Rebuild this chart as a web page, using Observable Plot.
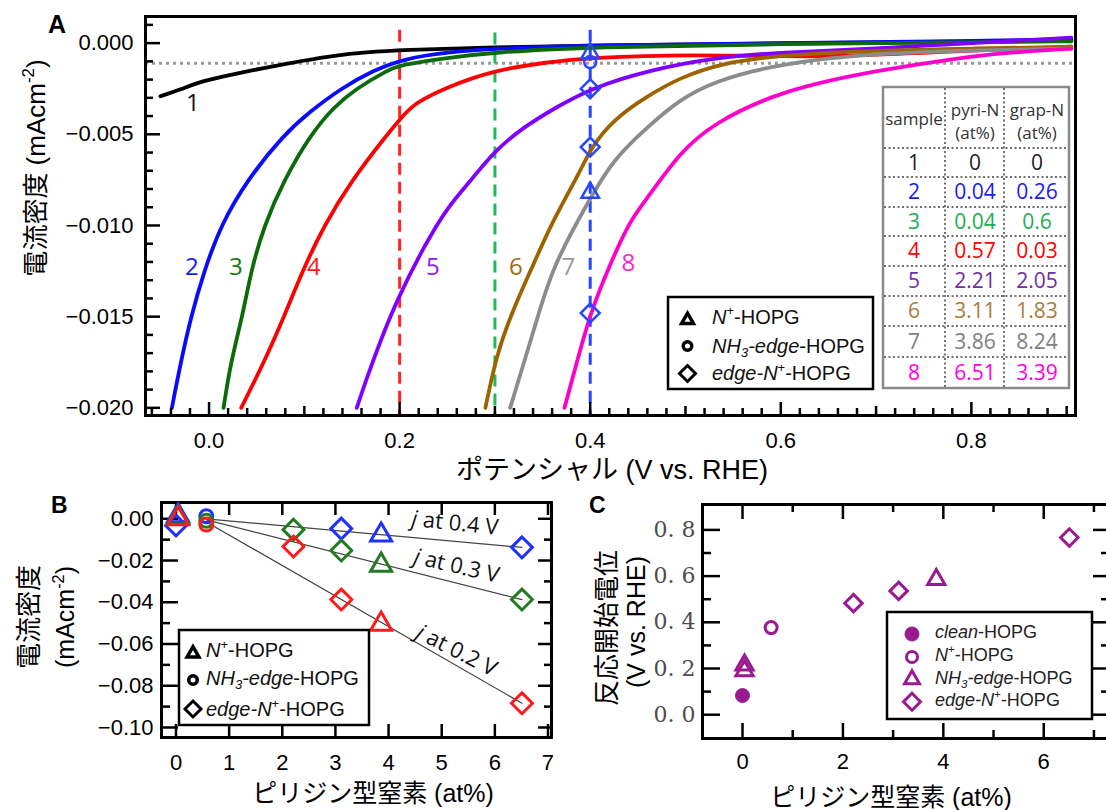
<!DOCTYPE html>
<html lang="ja">
<head>
<meta charset="utf-8">
<script src="https://cdn.jsdelivr.net/npm/d3@7"></script>
<script src="https://cdn.jsdelivr.net/npm/@observablehq/plot@0.6"></script>
<style>
  html, body { margin:0; padding:0; background:#fff; overflow:hidden; }
  #fig { position:relative; width:1106px; height:810px; overflow:hidden; background:#fff; }
</style>
</head>
<body>
<div id="fig"></div>
<script>
// ================= DATA =================
// Panel A: sample ids, colours, table values
const sampleLabels = ["1","2","3","4","5","6","7","8"];
const curveColors  = ["#000000","#0a0aff","#0b6b0b","#ff0000","#8000ff","#9c6400","#8c8c8c","#ff00cc"];
const labelColors  = ["#111111","#1a1aff","#137a13","#ff1a1a","#8a1aff","#a06a10","#9a9a9a","#ff22cc"];
const tableColors  = ["#222222","#1a1aff","#1aae54","#ff0000","#7030a0","#a97d3c","#808080","#ff00dd"];
const pyriN = ["0","0.04","0.04","0.57","2.21","3.11","3.86","6.51"];
const grapN = ["0","0.26","0.6","0.03","2.05","1.83","8.24","3.39"];

// LSV curves: [potential V vs RHE, current density mA cm^-2]
const sample1 = [[-0.051,-0.00291],[-0.03,-0.00255],[-0.008,-0.00208],[0.03,-0.00165],[0.062,-0.00132],[0.1,-0.00095],[0.131,-0.00068],[0.165,-0.0005],[0.201,-0.00038],[0.3,-0.00022],[0.4,-0.00012],[0.6,-0.00002],[0.8,0.00008],[0.905,0.00015]];
const sample2 = [[-0.039,-0.0200],[-0.0297,-0.0175],[-0.019,-0.0150],[-0.0052,-0.0125],[0.0122,-0.0100],[0.040,-0.0075],[0.0787,-0.0050],[0.106,-0.00375],[0.138,-0.0025],[0.172,-0.0015],[0.205,-0.00085],[0.25,-0.0005],[0.3,-0.0003],[0.4,-0.00012],[0.6,0.0],[0.8,0.00012],[0.905,0.0002]];
const sample3 = [[0.0152,-0.0200],[0.0227,-0.0175],[0.035,-0.0150],[0.044,-0.0125],[0.0577,-0.0100],[0.0787,-0.0075],[0.1067,-0.0050],[0.131,-0.0035],[0.154,-0.0025],[0.187,-0.0015],[0.2,-0.0012],[0.25,-0.0008],[0.3,-0.0005],[0.4,-0.0002],[0.6,-0.00005],[0.8,0.00005],[0.905,0.0001]];
const sample4 = [[0.0337,-0.0200],[0.0577,-0.0175],[0.0787,-0.0150],[0.098,-0.0125],[0.1206,-0.0100],[0.150,-0.0075],[0.187,-0.0050],[0.2,-0.0042],[0.215,-0.0033],[0.25,-0.0024],[0.298,-0.0015],[0.355,-0.00104],[0.4,-0.0008],[0.5,-0.0006],[0.65,-0.0008],[0.75,-0.0005],[0.905,-0.0002]];
const sample5 = [[0.155,-0.0200],[0.166,-0.0183],[0.18,-0.0163],[0.198,-0.0140],[0.225,-0.0112],[0.25,-0.0090],[0.277,-0.0074],[0.298,-0.0060],[0.33,-0.0046],[0.365,-0.0035],[0.4,-0.0025],[0.46,-0.0015],[0.53,-0.0008],[0.6,-0.0005],[0.7,-0.0003],[0.8,0.0],[0.905,0.0003]];
const sample6 = [[0.29,-0.0200],[0.302,-0.0170],[0.32,-0.0145],[0.339,-0.0123],[0.361,-0.0097],[0.39,-0.0070],[0.4,-0.0058],[0.424,-0.0042],[0.46,-0.0029],[0.494,-0.0019],[0.537,-0.0011],[0.6,-0.00066],[0.7,-0.0004],[0.8,-0.0003],[0.905,-0.0002]];
const sample7 = [[0.316,-0.0200],[0.344,-0.0152],[0.360,-0.0123],[0.4,-0.0085],[0.424,-0.0064],[0.46,-0.0046],[0.494,-0.0031],[0.529,-0.0021],[0.6,-0.0011],[0.7,-0.00055],[0.8,-0.0004],[0.905,-0.0003]];
const sample8 = [[0.373,-0.0200],[0.385,-0.0177],[0.4,-0.0148],[0.421,-0.0121],[0.442,-0.0097],[0.46,-0.0085],[0.494,-0.0060],[0.529,-0.0044],[0.6,-0.0026],[0.7,-0.0015],[0.79,-0.0008],[0.83,-0.00055],[0.905,-0.0003]];

// curve number labels
const labelV = [-0.017,-0.018,0.028,0.11,0.235,0.322,0.377,0.44];
const labelJ = [-0.0033,-0.0123,-0.0123,-0.0123,-0.0123,-0.0123,-0.0123,-0.0121];

// guide lines
const guideV = [0.2, 0.3, 0.4];
const guideTopJ = [0.0007, 0.00055, 0.0007];
const guideColors = ["#ff2626","#1fbb55","#2646ff"];
const thresholdJ = [-0.0011];

// markers on the 0.4 V line
const markerV = 0.4;
const markerTriJ = [-0.00055, -0.0082];
const markerCircJ = [-0.00104];
const markerDiaJ = [-0.0025, -0.0057, -0.0148];

// Panel A axes
const aXTicks = [0, 0.2, 0.4, 0.6, 0.8];
const aXTickLabels = ["0.0","0.2","0.4","0.6","0.8"];
const aYTicks = [0, -0.005, -0.01, -0.015, -0.02];
const aYTickLabels = ["0.000","\u22120.005","\u22120.010","\u22120.015","\u22120.020"];

// Panel B: current density vs pyridinic N
const bDiaX04 = [0, 3.11, 6.51];    const bDiaJ04 = [-0.0032, -0.0047, -0.0137];
const bDiaX03 = [2.21, 3.11, 6.51]; const bDiaJ03 = [-0.0052, -0.0152, -0.0387];
const bDiaX02 = [2.21, 3.11, 6.51]; const bDiaJ02 = [-0.0133, -0.0387, -0.0884];
const bTriX = [0.04, 3.86];
const bTriJ04 = [0.0015, -0.0078];
const bTriJ03 = [0.0005, -0.0222];
const bTriJ02 = [0.0, -0.0505];
const bCircX = [0.57];
const bCircJ04 = [0.0012];
const bCircJ03 = [-0.001];
const bCircJ02 = [-0.0028];
const fitX = [0.57, 6.51];
const fitJ04 = [0.0, -0.0137];
const fitJ03 = [-0.0005, -0.0387];
const fitJ02 = [-0.0015, -0.0884];
const bLabels = ["j at 0.4 V", "j at 0.3 V", "j at 0.2 V"];
const bLabelX = [5.25, 5.28, 5.28];
const bLabelJ = [-0.0022, -0.0227, -0.0632];
const bLabelAngle = [6, 13, 27];
const bColors = ["#1e32ff", "#237a23", "#ff1a1a"];
const bXTicks = [0,1,2,3,4,5,6,7];
const bYTicks = [0, -0.02, -0.04, -0.06, -0.08, -0.1];
const bYTickLabels = ["0.00","\u22120.02","\u22120.04","\u22120.06","\u22120.08","\u22120.10"];

// Panel C: onset potential vs pyridinic N
const cCleanX = [0];              const cCleanY = [0.083];
const cNplusX = [0.57];           const cNplusY = [0.377];
const cNH3X = [0.04, 0.04, 3.86]; const cNH3Y = [0.215, 0.19, 0.585];
const cEdgeX = [2.21, 3.11, 6.51];const cEdgeY = [0.483, 0.536, 0.767];
const cXTicks = [0, 2, 4, 6];
const cXTickLabels = ["0","2","4","6"];
const cYTicks = [0, 0.2, 0.4, 0.6, 0.8];
const cYTickLabels = ["0. 0","0. 2","0. 4","0. 6","0. 8"];
const purple = "#991b8f";

// ================= RENDER =================
const FONT = "'Liberation Sans', Arial, 'Noto Sans CJK JP', sans-serif";
const OPEN = "'Open Sans', 'Noto Sans', sans-serif";
const NS = "http://www.w3.org/2000/svg";
const fig = document.getElementById("fig");
function place(svg, left, top) {
  svg.style.position = "absolute"; svg.style.left = left + "px"; svg.style.top = top + "px";
  svg.style.maxWidth = "none"; svg.style.background = "transparent";
  fig.appendChild(svg);
}
const lookup = (keys, labels) => { const m = new Map(keys.map((k, i) => [k, labels[i]])); return d => m.get(d); };
const blk = {stroke: "#000", strokeWidth: 2.5};

// ---------- Panel A ----------
const aW = 1106, aH = 480, aML = 145, aMR = 31, aMT = 16, aMB = 65;
const aPW = aW - aML - aMR, aPH = aH - aMT - aMB;
const aXDomain = [-0.0667, 0.9093], aYDomain = [-0.02042, 0.00146];
const aXAll = d3.range(-3, 46).map(i => +(i * 0.02).toFixed(2));
const aXMid = [0.1, 0.3, 0.5, 0.7, 0.9];
const aXMinorOnly = aXAll.filter(v => !aXTicks.some(t => Math.abs(t - v) < 1e-9) && !aXMid.some(m => Math.abs(m - v) < 1e-9));
const aYMinor = d3.range(-20, 2).map(i => +(i * 0.001).toFixed(3)).filter(v => !aYTicks.some(t => Math.abs(t - v) < 1e-9));

const aMarks = [];
aMarks.push(Plot.ruleY(thresholdJ, {y: d => d, stroke: "#9a9a9a", strokeWidth: 3, strokeDasharray: "3,4"}));
guideV.forEach((v, i) => aMarks.push(Plot.ruleX([v], {x: d => d, y1: guideTopJ[i], y2: aYDomain[0], stroke: guideColors[i], strokeWidth: 3, strokeDasharray: "12,7"})));
[sample1, sample2, sample3, sample4, sample5, sample6, sample7, sample8].forEach((c, i) =>
  aMarks.push(Plot.line(c, {x: d => d[0], y: d => d[1], stroke: curveColors[i], strokeWidth: 3.8, curve: "basis"})));
aMarks.push(Plot.dot(markerTriJ, {x: markerV, y: d => d, symbol: d3.symbolTriangle, r: 6.5, stroke: "#2646ff", strokeWidth: 2.5, fill: "none"}));
aMarks.push(Plot.dot(markerCircJ, {x: markerV, y: d => d, symbol: d3.symbolCircle, r: 6, stroke: "#2646ff", strokeWidth: 2.5, fill: "none"}));
aMarks.push(Plot.dot(markerDiaJ, {x: markerV, y: d => d, symbol: d3.symbolDiamond2, r: 8.5, stroke: "#2646ff", strokeWidth: 2.5, fill: "none"}));
sampleLabels.forEach((s, i) => aMarks.push(Plot.text([s], {x: labelV[i], y: labelJ[i], text: d => d, fill: labelColors[i], fontSize: 24, fontFamily: OPEN})));
aMarks.push(Plot.ruleX(aXTicks, {x: d => d, insetTop: aPH - 13, ...blk}));
aMarks.push(Plot.ruleX(aXMid, {x: d => d, insetTop: aPH - 9, ...blk}));
aMarks.push(Plot.ruleX(aXMinorOnly, {x: d => d, insetTop: aPH - 7, ...blk}));
aMarks.push(Plot.ruleY(aYTicks, {y: d => d, insetRight: aPW - 15, ...blk}));
aMarks.push(Plot.ruleY(aYMinor, {y: d => d, insetRight: aPW - 8, ...blk}));
aMarks.push(Plot.frame({stroke: "#000", strokeWidth: 3}));
aMarks.push(Plot.axisX({ticks: aXTicks, tickSize: 0, tickPadding: 17, tickFormat: lookup(aXTicks, aXTickLabels), label: null, fontSize: 22}));
aMarks.push(Plot.axisY({ticks: aYTicks, tickSize: 0, tickPadding: 12, tickFormat: lookup(aYTicks, aYTickLabels), label: null, fontSize: 22}));
const plotA = Plot.plot({
  width: aW, height: aH, marginLeft: aML, marginRight: aMR, marginTop: aMT, marginBottom: aMB,
  x: {domain: aXDomain}, y: {domain: aYDomain},
  style: {fontFamily: FONT, fontSize: "22px", color: "#000", background: "transparent", overflow: "visible"},
  marks: aMarks
});
place(plotA, 0, 0);

// ---------- Panel B ----------
const bW = 580, bH = 330, bML = 161, bMR = 29, bMT = 22, bMB = 73;
const bPW = bW - bML - bMR, bPH = bH - bMT - bMB;
const bYMinor = [-0.01, -0.03, -0.05, -0.07, -0.09];
const pts = (xs, ys) => xs.map((x, i) => ({x, y: ys[i]}));
const bMarks = [];
bMarks.push(Plot.ruleX(bXTicks, {x: d => d, insetTop: bPH - 13, ...blk}));
bMarks.push(Plot.ruleX(bXTicks, {x: d => d, insetBottom: bPH - 13, ...blk}));
bMarks.push(Plot.ruleY(bYTicks, {y: d => d, insetRight: bPW - 17, ...blk}));
bMarks.push(Plot.ruleY(bYMinor, {y: d => d, insetRight: bPW - 9, ...blk}));
bMarks.push(Plot.ruleY(bYTicks, {y: d => d, insetLeft: bPW - 13, ...blk}));
bMarks.push(Plot.ruleY(bYMinor, {y: d => d, insetLeft: bPW - 7, ...blk}));
bMarks.push(Plot.frame({stroke: "#000", strokeWidth: 3}));
[fitJ04, fitJ03, fitJ02].forEach(f => bMarks.push(Plot.line(pts(fitX, f), {x: "x", y: "y", stroke: "#444", strokeWidth: 1.2})));
const bSeries = [
  [bDiaJ04, bTriJ04, bCircJ04, bDiaX04],
  [bDiaJ03, bTriJ03, bCircJ03, bDiaX03],
  [bDiaJ02, bTriJ02, bCircJ02, bDiaX02]
];
bSeries.forEach(([dj, tj, cj, dx], i) => {
  const c = bColors[i];
  bMarks.push(Plot.dot(pts(dx, dj), {x: "x", y: "y", symbol: d3.symbolDiamond2, r: 9.4, stroke: c, strokeWidth: 3, fill: "none"}));
  bMarks.push(Plot.dot(pts(bTriX, tj), {x: "x", y: "y", symbol: d3.symbolTriangle, r: 7.8, stroke: c, strokeWidth: 3, fill: "none"}));
  bMarks.push(Plot.dot(pts(bCircX, cj), {x: "x", y: "y", symbol: d3.symbolCircle, r: 6.5, stroke: c, strokeWidth: 3, fill: "none"}));
});
bLabels.forEach((s, i) => bMarks.push(Plot.text([s], {x: bLabelX[i], y: bLabelJ[i], text: d => d, rotate: bLabelAngle[i], fontSize: 22, fontFamily: OPEN, fill: "#111"})));
bMarks.push(Plot.axisX({ticks: bXTicks, tickSize: 0, tickPadding: 17, tickFormat: d => String(d), label: null, fontSize: 22}));
bMarks.push(Plot.axisY({ticks: bYTicks, tickSize: 0, tickPadding: 8, tickFormat: lookup(bYTicks, bYTickLabels), label: null, fontSize: 22}));
const plotB = Plot.plot({
  width: bW, height: bH, marginLeft: bML, marginRight: bMR, marginTop: bMT, marginBottom: bMB,
  x: {domain: [-0.273, 7.066]}, y: {domain: [-0.1048, 0.0078]},
  style: {fontFamily: FONT, fontSize: "22px", color: "#000", background: "transparent", overflow: "visible"},
  marks: bMarks
});
plotB.querySelectorAll("text").forEach(t => {
  const s = t.textContent;
  if (s.startsWith("j at")) {
    t.textContent = "";
    const a = document.createElementNS(NS, "tspan");
    a.setAttribute("font-style", "italic"); a.textContent = "j";
    t.appendChild(a); t.appendChild(document.createTextNode(s.slice(1)));
  }
});
place(plotB, 0, 480);

// ---------- Panel C ----------
const cW = 530, cH = 330, cML = 122, cMR = 0, cMT = 24, cMB = 72;
const cPW = cW - cML - cMR, cPH = cH - cMT - cMB;
const cXOdd = [1, 3, 5, 7];
const cYMinor = [0.1, 0.3, 0.5, 0.7];
const cMarks = [];
cMarks.push(Plot.ruleX(cXTicks, {x: d => d, insetTop: cPH - 15, ...blk}));
cMarks.push(Plot.ruleX(cXOdd, {x: d => d, insetTop: cPH - 8, ...blk}));
cMarks.push(Plot.ruleX(cXTicks, {x: d => d, insetBottom: cPH - 15, ...blk}));
cMarks.push(Plot.ruleX(cXOdd, {x: d => d, insetBottom: cPH - 8, ...blk}));
cMarks.push(Plot.ruleY(cYTicks, {y: d => d, insetRight: cPW - 18, ...blk}));
cMarks.push(Plot.ruleY(cYMinor, {y: d => d, insetRight: cPW - 9, ...blk}));
cMarks.push(Plot.ruleY(cYTicks, {y: d => d, insetLeft: cPW - 17, ...blk}));
cMarks.push(Plot.ruleY(cYMinor, {y: d => d, insetLeft: cPW - 9, ...blk}));
cMarks.push(Plot.frame({stroke: "#000", strokeWidth: 3}));
cMarks.push(Plot.dot(pts(cCleanX, cCleanY), {x: "x", y: "y", symbol: d3.symbolCircle, r: 7, fill: purple, stroke: purple, strokeWidth: 1}));
cMarks.push(Plot.dot(pts(cNplusX, cNplusY), {x: "x", y: "y", symbol: d3.symbolCircle, r: 6, fill: "none", stroke: purple, strokeWidth: 3}));
cMarks.push(Plot.dot(pts(cNH3X, cNH3Y), {x: "x", y: "y", symbol: d3.symbolTriangle, r: 6.4, fill: "none", stroke: purple, strokeWidth: 3}));
cMarks.push(Plot.dot(pts(cEdgeX, cEdgeY), {x: "x", y: "y", symbol: d3.symbolDiamond2, r: 7.9, fill: "none", stroke: purple, strokeWidth: 3}));
cMarks.push(Plot.axisX({ticks: cXTicks, tickSize: 0, tickPadding: 15, tickFormat: lookup(cXTicks, cXTickLabels), label: null, fontSize: 22}));
cMarks.push(Plot.axisY({ticks: cYTicks, tickSize: 0, tickPadding: 7, tickFormat: lookup(cYTicks, cYTickLabels), label: null, fontSize: 22, fontFamily: "'DejaVu Serif', serif", fill: "#4d4d4d"}));
const plotC = Plot.plot({
  width: cW, height: cH, marginLeft: cML, marginRight: cMR, marginTop: cMT, marginBottom: cMB,
  x: {domain: [-0.797, 7.33]}, y: {domain: [-0.103, 0.91]},
  style: {fontFamily: FONT, fontSize: "22px", color: "#000", background: "transparent", overflow: "visible"},
  marks: cMarks
});
place(plotC, 580, 480);

// ---------- Overlay: titles, table, legends ----------
function mk(tag, attrs, parent) {
  const e = document.createElementNS(NS, tag);
  for (const k in attrs) e.setAttribute(k, attrs[k]);
  if (parent) parent.appendChild(e);
  return e;
}
function rich(parent, x, y, fs, segs, attrs = {}) {
  const t = mk("text", Object.assign({x, y, "font-size": fs}, attrs), parent);
  let shift = 0;
  segs.forEach(s => {
    const ts = mk("tspan", {}, t);
    let target = 0;
    if (s.sup) { target = -fs * 0.42; ts.setAttribute("font-size", fs * 0.65); }
    else if (s.sub) { target = fs * 0.22; ts.setAttribute("font-size", fs * 0.65); }
    const dy = target - shift;
    if (dy !== 0) ts.setAttribute("dy", dy);
    shift = target;
    if (s.i) ts.setAttribute("font-style", "italic");
    ts.textContent = s.t;
  });
  return t;
}
function glyph(parent, type, size, cx, cy, stroke, sw, fill) {
  mk("path", {d: d3.symbol(type, size)(), transform: `translate(${cx},${cy})`, stroke, "stroke-width": sw, fill}, parent);
}
const ov = mk("svg", {width: 1106, height: 810, viewBox: "0 0 1106 810"});
ov.style.position = "absolute"; ov.style.left = "0px"; ov.style.top = "0px";
ov.setAttribute("font-family", FONT);
fig.appendChild(ov);

// panel letters
mk("text", {x: 48, y: 33, "font-size": 25, "font-weight": "bold"}, ov).textContent = "A";
mk("text", {x: 51, y: 513, "font-size": 23, "font-weight": "bold"}, ov).textContent = "B";
mk("text", {x: 589, y: 513, "font-size": 23, "font-weight": "bold"}, ov).textContent = "C";

// axis titles
rich(ov, 0, 0, 26, [{t: "電流密度 (mAcm"}, {t: "-2", sup: true}, {t: ")"}], {transform: "translate(45,168) rotate(-90)", "text-anchor": "middle"});
rich(ov, 612, 479, 27, [{t: "ポテンシャル (V vs. RHE)"}], {"text-anchor": "middle"});
rich(ov, 0, 0, 26, [{t: "電流密度"}], {transform: "translate(38,617) rotate(-90)", "text-anchor": "middle"});
rich(ov, 0, 0, 25, [{t: "(mAcm"}, {t: "-2", sup: true}, {t: ")"}], {transform: "translate(74,617) rotate(-90)", "text-anchor": "middle"});
rich(ov, 373, 802, 25, [{t: "ピリジン型窒素 (at%)"}], {"text-anchor": "middle"});
rich(ov, 0, 0, 26, [{t: "反応開始電位"}], {transform: "translate(616,628) rotate(-90)", "text-anchor": "middle"});
rich(ov, 0, 0, 25, [{t: "(V vs. RHE)"}], {transform: "translate(645,622) rotate(-90)", "text-anchor": "middle"});
rich(ov, 891, 806, 25, [{t: "ピリジン型窒素 (at%)"}], {"text-anchor": "middle"});

// table
const tg = mk("g", {"font-family": OPEN}, ov);
const colX = [883, 945, 1004, 1069];
const rowY = [87, 148, 177, 207, 236, 266, 296, 326, 357, 388];
mk("rect", {x: colX[0], y: rowY[0], width: colX[3] - colX[0], height: rowY[9] - rowY[0], fill: "#fff", stroke: "#8a8a8a", "stroke-width": 2.5}, tg);
[colX[1], colX[2]].forEach(x => mk("line", {x1: x, x2: x, y1: rowY[0] + 1, y2: rowY[9] - 1, stroke: "#707070", "stroke-width": 2, "stroke-dasharray": "2,2.5"}, tg));
rowY.slice(1, 9).forEach(y => mk("line", {x1: colX[0] + 1, x2: colX[3] - 1, y1: y, y2: y, stroke: "#707070", "stroke-width": 2, "stroke-dasharray": "2,2.5"}, tg));
const colC = [914, 975, 1037];
mk("text", {x: colC[0], y: 125, "font-size": 17, "text-anchor": "middle", fill: "#333"}, tg).textContent = "sample";
mk("text", {x: colC[1], y: 116, "font-size": 17, "text-anchor": "middle", fill: "#333"}, tg).textContent = "pyri-N";
mk("text", {x: colC[1], y: 139, "font-size": 17, "text-anchor": "middle", fill: "#333"}, tg).textContent = "(at%)";
mk("text", {x: colC[2], y: 116, "font-size": 17, "text-anchor": "middle", fill: "#333"}, tg).textContent = "grap-N";
mk("text", {x: colC[2], y: 139, "font-size": 17, "text-anchor": "middle", fill: "#333"}, tg).textContent = "(at%)";
sampleLabels.forEach((s, i) => {
  const cy = (rowY[i + 1] + rowY[i + 2]) / 2 + 7;
  [s, pyriN[i], grapN[i]].forEach((v, j) => {
    mk("text", {x: colC[j], y: cy, "font-size": 21, "text-anchor": "middle", fill: tableColors[i]}, tg).textContent = v;
  });
});

// legend A
mk("rect", {x: 668, y: 297, width: 205, height: 92, fill: "#fff", stroke: "#000", "stroke-width": 2.5}, ov);
glyph(ov, d3.symbolTriangle, 60, 687.5, 320, "#000", 3.5, "none");
glyph(ov, d3.symbolCircle, 57, 687.5, 346, "#000", 3.5, "none");
glyph(ov, d3.symbolDiamond2, 163, 687.5, 373.5, "#000", 3, "none");
rich(ov, 712, 323.5, 20, [{t: "N", i: true}, {t: "+", sup: true}, {t: "-HOPG"}], {fill: "#111"});
rich(ov, 712, 353, 20, [{t: "NH", i: true}, {t: "3", sub: true, i: true}, {t: "-edge", i: true}, {t: "-HOPG"}], {fill: "#111"});
rich(ov, 712, 380, 20, [{t: "edge-N", i: true}, {t: "+", sup: true}, {t: "-HOPG"}], {fill: "#111"});

// legend B
mk("rect", {x: 179, y: 630, width: 190, height: 95, fill: "#fff", stroke: "#000", "stroke-width": 2.5}, ov);
glyph(ov, d3.symbolTriangle, 60, 193, 653.5, "#000", 3.5, "none");
glyph(ov, d3.symbolCircle, 57, 193, 680, "#000", 3.5, "none");
glyph(ov, d3.symbolDiamond2, 163, 193, 709, "#000", 3, "none");
rich(ov, 206, 657, 20, [{t: "N", i: true}, {t: "+", sup: true}, {t: "-HOPG"}], {fill: "#111"});
rich(ov, 206, 685, 20, [{t: "NH", i: true}, {t: "3", sub: true, i: true}, {t: "-edge", i: true}, {t: "-HOPG"}], {fill: "#111"});
rich(ov, 206, 716, 20, [{t: "edge-N", i: true}, {t: "+", sup: true}, {t: "-HOPG"}], {fill: "#111"});

// legend C
mk("rect", {x: 887, y: 612, width: 205, height: 107, fill: "#fff", stroke: "#000", "stroke-width": 2.5}, ov);
glyph(ov, d3.symbolCircle, 154, 912, 634, purple, 1, purple);
glyph(ov, d3.symbolCircle, 95, 912, 657, purple, 3, "none");
glyph(ov, d3.symbolTriangle, 97, 912, 679.5, purple, 3, "none");
glyph(ov, d3.symbolDiamond2, 184, 912, 701.7, purple, 3, "none");
rich(ov, 935, 638, 18, [{t: "clean", i: true}, {t: "-HOPG"}], {fill: "#222"});
rich(ov, 935, 661, 18, [{t: "N", i: true}, {t: "+", sup: true}, {t: "-HOPG"}], {fill: "#222"});
rich(ov, 935, 684, 18, [{t: "NH", i: true}, {t: "3", sub: true, i: true}, {t: "-edge", i: true}, {t: "-HOPG"}], {fill: "#222"});
rich(ov, 935, 706, 18, [{t: "edge-N", i: true}, {t: "+", sup: true}, {t: "-HOPG"}], {fill: "#222"});
</script>
</body>
</html>
